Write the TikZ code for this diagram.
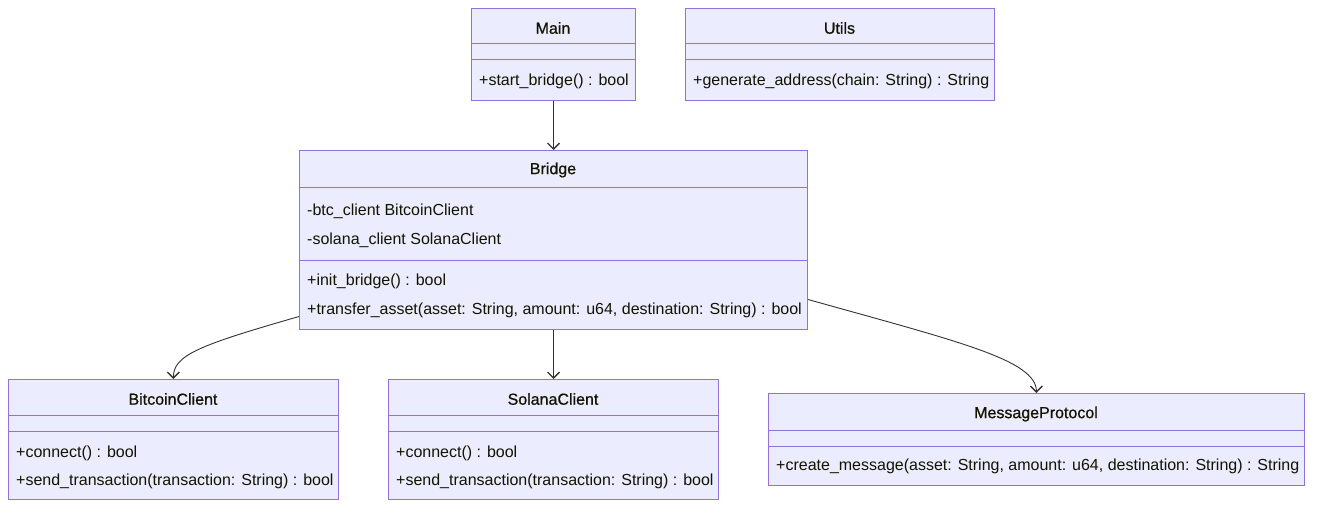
\documentclass[tikz,border=0pt]{standalone}
\usepackage{fontspec}
\setmainfont{Liberation Sans}
\newfontfamily\titlefont[FakeBold=0.7]{Liberation Sans}
\usetikzlibrary{arrows.meta}
\definecolor{clsfill}{HTML}{ECECFF}
\definecolor{clsline}{HTML}{9370DB}
\definecolor{txt}{HTML}{131300}
\definecolor{edge}{HTML}{333333}
\tikzset{
  cls/.style={draw=clsline, fill=clsfill, line width=1pt, rectangle, inner sep=0pt, anchor=north west},
  sepline/.style={draw=clsline, line width=1pt},
  ttl/.style={inner sep=0pt, text=txt, font=\titlefont\fontsize{16}{19}\selectfont},
  mem/.style={inner sep=0pt, text=txt, anchor=west, font=\fontsize{16}{19}\selectfont},
  dep/.style={draw=edge, line width=0.9pt, -{Straight Barb[length=6pt,width=12pt,line width=1.4pt]}}
}
\begin{document}
\begin{tikzpicture}[x=1pt,y=-1pt]
\useasboundingbox (0,0) rectangle (1320,511);
% Main
\node[cls, minimum width=164pt, minimum height=92pt] (main) at (471,8) {};
\draw[sepline] ([yshift=-36pt]main.north west) -- ([yshift=-36pt]main.north east);
\draw[sepline] ([yshift=-52pt]main.north west) -- ([yshift=-52pt]main.north east);
\node[ttl] (mainT) at (553,28) {Main};
\node[mem] (mainM1) at (479,81.5) {+start\_bridge() : bool};
% Utils
\node[cls, minimum width=309pt, minimum height=92pt] (utils) at (685,8) {};
\draw[sepline] ([yshift=-36pt]utils.north west) -- ([yshift=-36pt]utils.north east);
\draw[sepline] ([yshift=-52pt]utils.north west) -- ([yshift=-52pt]utils.north east);
\node[ttl] (utilsT) at (839.5,28) {Utils};
\node[mem] (utilsM1) at (693,81.5) {+generate\_address(chain: String) : String};
% Bridge
\node[cls, minimum width=508pt, minimum height=179pt] (bridge) at (299,150) {};
\draw[sepline] ([yshift=-37pt]bridge.north west) -- ([yshift=-37pt]bridge.north east);
\draw[sepline] ([yshift=-110pt]bridge.north west) -- ([yshift=-110pt]bridge.north east);
\node[ttl] (bridgeT) at (553,170) {Bridge};
\node[mem] (bridgeA1) at (307,211.5) {-btc\_client BitcoinClient};
\node[mem] (bridgeA2) at (307,240.5) {-solana\_client SolanaClient};
\node[mem] (bridgeM1) at (307,281.5) {+init\_bridge() : bool};
\node[mem] (bridgeM2) at (307,310.5) {+transfer\_asset(asset: String, amount: u64, destination: String) : bool};
% BitcoinClient
\node[cls, minimum width=330pt, minimum height=120pt] (btc) at (8,379) {};
\draw[sepline] ([yshift=-36pt]btc.north west) -- ([yshift=-36pt]btc.north east);
\draw[sepline] ([yshift=-52pt]btc.north west) -- ([yshift=-52pt]btc.north east);
\node[ttl] (btcT) at (173,399) {BitcoinClient};
\node[mem] (btcM1) at (16,453) {+connect() : bool};
\node[mem] (btcM2) at (16,481.5) {+send\_transaction(transaction: String) : bool};
% SolanaClient
\node[cls, minimum width=330pt, minimum height=120pt] (sol) at (388,379) {};
\draw[sepline] ([yshift=-36pt]sol.north west) -- ([yshift=-36pt]sol.north east);
\draw[sepline] ([yshift=-52pt]sol.north west) -- ([yshift=-52pt]sol.north east);
\node[ttl] (solT) at (553,399) {SolanaClient};
\node[mem] (solM1) at (396,453) {+connect() : bool};
\node[mem] (solM2) at (396,481.5) {+send\_transaction(transaction: String) : bool};
% MessageProtocol
\node[cls, minimum width=536pt, minimum height=92pt] (msg) at (768,393) {};
\draw[sepline] ([yshift=-37pt]msg.north west) -- ([yshift=-37pt]msg.north east);
\draw[sepline] ([yshift=-53pt]msg.north west) -- ([yshift=-53pt]msg.north east);
\node[ttl] (msgT) at (1036,414) {MessageProtocol};
\node[mem] (msgM1) at (776,466.5) {+create\_message(asset: String, amount: u64, destination: String) : String};
% connectors
\draw[dep] (main.south) -- (bridge.north);
\draw[dep] (bridge.south) -- (sol.north);
\draw[dep] ([yshift=-76.5pt]bridge.west) .. controls (200,345) and (173,355) .. (btc.north);
\draw[dep] ([yshift=-59.5pt]bridge.east) .. controls (960,342) and (1036,360) .. (msg.north);
\end{tikzpicture}
\end{document}
